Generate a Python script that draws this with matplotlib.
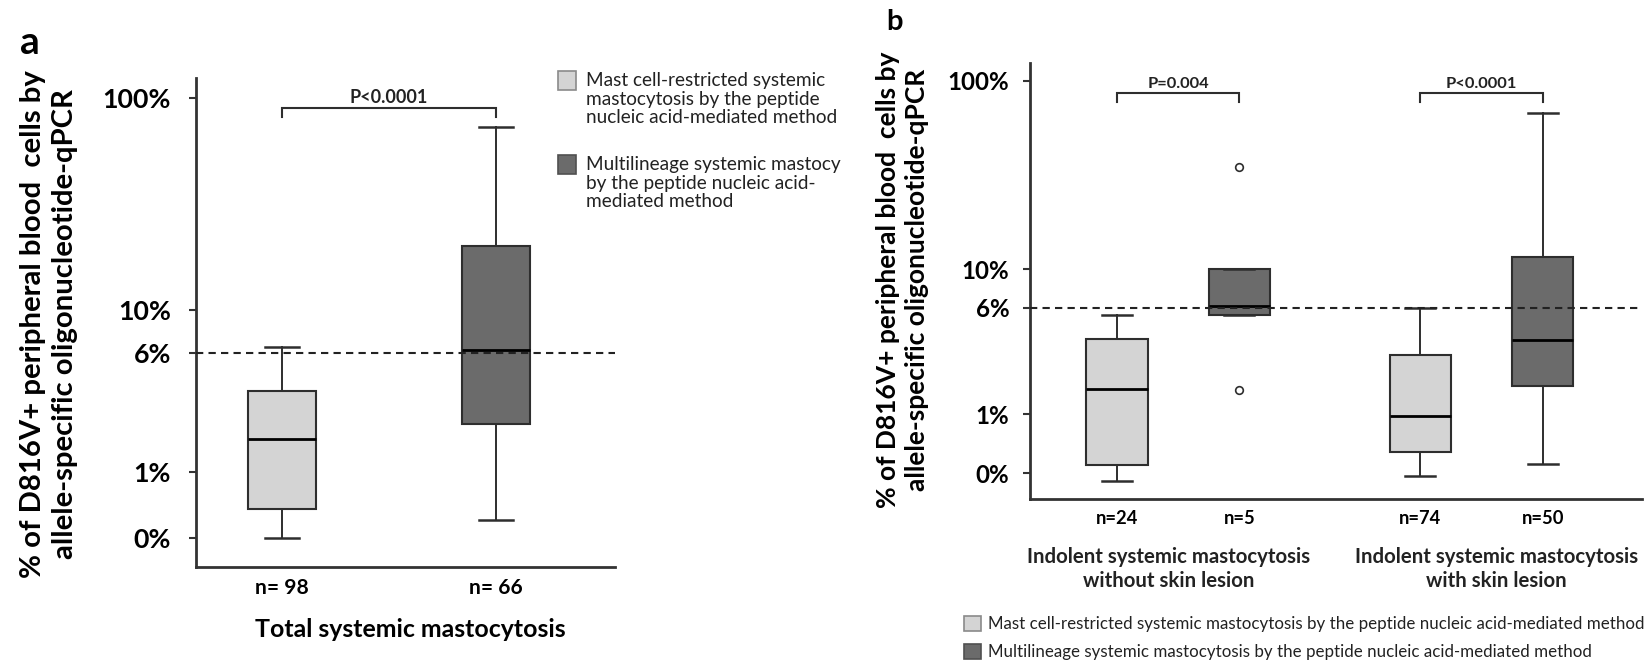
import numpy as np
import matplotlib
matplotlib.use("Agg")
import matplotlib.pyplot as plt
from matplotlib.patches import Rectangle
from matplotlib.ticker import NullLocator
import matplotlib.transforms as mtrans

plt.rcParams["font.family"] = ["Lato", "DejaVu Sans"]

W, H = 1646, 666
LIGHT = "#d4d4d4"
DARK = "#6b6b6b"
EDGE = "#2e2e2e"

# y axis is log10(% + 1)
TICK_VALS = [0, 1, 6, 10, 100]
TICK_LABELS = ["0%", "1%", "6%", "10%", "100%"]
CUTOFF = 6
YLIM = (-0.26, 124)

# panel a: total systemic mastocytosis
A_N = ["n= 98", "n= 66"]
A_Q1 = [0.36, 2.31]
A_MED = [1.84, 6.18]
A_Q3 = [3.67, 20.4]
A_WLO = [0.0, 0.21]
A_WHI = [6.44, 74.0]
A_COLORS = [LIGHT, DARK]
A_P = "P<0.0001"

# panel b: ISM without / with skin lesion
B_N = ["n=24", "n=5", "n=74", "n=50"]
B_Q1 = [0.10, 5.46, 0.28, 1.80]
B_MED = [1.70, 6.12, 0.96, 3.78]
B_Q3 = [3.88, 10.0, 3.04, 11.8]
B_WLO = [-0.086, 5.46, -0.025, 0.115]
B_WHI = [5.41, 10.0, 5.95, 68.4]
B_FLIERS = [[], [35.8, 1.68], [], []]
B_COLORS = [LIGHT, DARK, LIGHT, DARK]
B_GROUPS = ["Indolent systemic mastocytosis\nwithout skin lesion",
            "Indolent systemic mastocytosis\nwith skin lesion"]
B_P = ["P=0.004", "P<0.0001"]

YL1 = "% of D816V+ peripheral blood  cells by"
YLABEL = YL1 + "\nallele-specific oligonucleotide-qPCR"
LEG_A = ["Mast cell-restricted systemic\nmastocytosis by the peptide\nnucleic acid-mediated method",
         "Multilineage systemic mastocy\nby the peptide nucleic acid-\nmediated method"]
LEG_B = ["Mast cell-restricted systemic mastocytosis by the peptide nucleic acid-mediated method",
         "Multilineage systemic mastocytosis by the peptide nucleic acid-mediated method"]


def fwd(v):
    return np.log10(np.asarray(v, dtype=float) + 1)


def inv(p):
    return 10 ** np.asarray(p, dtype=float) - 1


def px(x, y):
    return x / W, 1 - y / H


fig = plt.figure(figsize=(W / 100, H / 100), dpi=100)
R = fig.canvas.get_renderer()


def size_for(s, width_px, weight="normal", base=10):
    # font size that makes s about width_px wide
    t = fig.text(0, 0, s, fontsize=base, fontweight=weight)
    w = t.get_window_extent(R).width
    t.remove()
    return base * width_px / w


FS_TICK_A = size_for("100%", 68.5, "bold")
FS_TICK_B = size_for("100%", 62, "bold")
FS_P_A = size_for("P<0.0001", 78, "bold")
FS_P_B = size_for("P<0.0001", 71.5, "bold")
FS_N_A = size_for("n= 98", 53.6, "bold")
FS_N_B = size_for("n=24", 42.7, "bold")
FS_XLAB = size_for("Total systemic mastocytosis", 312, "bold")
FS_YLAB_A = size_for(YL1, 509, "bold")
FS_YLAB_B = size_for(YL1, 459, "bold")
FS_GROUP = size_for("Indolent systemic mastocytosis", 285, "bold")
FS_LEG_A = size_for("by the peptide nucleic acid-", 231)
FS_LEG_B = size_for(LEG_B[0], 652)


def make_stats(q1, med, q3, wlo, whi, fliers=None):
    out = []
    for i in range(len(q1)):
        out.append(dict(q1=q1[i], med=med[i], q3=q3[i], whislo=wlo[i],
                        whishi=whi[i], fliers=(fliers[i] if fliers else [])))
    return out


def draw_boxes(ax, stats, pos, width, capw, colors):
    r = ax.bxp(stats, positions=pos, widths=width, capwidths=capw,
               patch_artist=True, showfliers=True, manage_ticks=False,
               boxprops=dict(edgecolor=EDGE, linewidth=1.5),
               medianprops=dict(color="black", linewidth=2),
               whiskerprops=dict(color=EDGE, linewidth=1.4),
               capprops=dict(color=EDGE, linewidth=1.8),
               flierprops=dict(marker="o", markersize=5.5, markerfacecolor="white",
                               markeredgecolor=EDGE, markeredgewidth=1.2))
    for b, c in zip(r["boxes"], colors):
        b.set_facecolor(c)
    return r


def style(ax, fs, pad):
    ax.set_yscale("function", functions=(fwd, inv))
    ax.set_ylim(*YLIM)
    ax.set_yticks(TICK_VALS, TICK_LABELS, fontsize=fs, fontweight="bold")
    ax.yaxis.set_minor_locator(NullLocator())
    for s in ("top", "right"):
        ax.spines[s].set_visible(False)
    for s in ("left", "bottom"):
        ax.spines[s].set_linewidth(2)
        ax.spines[s].set_color("#333333")
    ax.tick_params(axis="y", length=5, width=1.5, color="#333333", pad=pad)
    ax.tick_params(axis="x", length=0)
    ax.axhline(CUTOFF, color="#222222", lw=1.5, ls=(0, (3.5, 2.5)), zorder=3)


def bracket(ax, x0, x1, ytop, yend, text, fs, off):
    ax.plot([x0, x0, x1, x1], [yend, ytop, ytop, yend], color=EDGE, lw=1.5,
            solid_joinstyle="miter", clip_on=False)
    ax.annotate(text, xy=((x0 + x1) / 2, ytop), xytext=(0, off),
                textcoords="offset points", ha="center", va="baseline",
                fontsize=fs, fontweight="bold", color="#222222")


# ---------------- panel a ----------------
axa = fig.add_axes([196 / W, 1 - 567 / H, 419 / W, 489 / H])
pos_a = [1, 2]
draw_boxes(axa, make_stats(A_Q1, A_MED, A_Q3, A_WLO, A_WHI), pos_a, 0.317, 0.16, A_COLORS)
style(axa, FS_TICK_A, 13)
axa.set_xlim(0.600, 2.555)
axa.set_xticks(pos_a, A_N, fontsize=FS_N_A, fontweight="bold")
axa.tick_params(axis="x", pad=8)
axa.set_xlabel("Total systemic mastocytosis", fontsize=FS_XLAB, fontweight="bold")
axa.xaxis.set_label_coords(0.512, -0.105)
bracket(axa, pos_a[0], pos_a[1], 89.9, 82.0, A_P, FS_P_A, 4)

fig.text(*px(49, 324), YLABEL, rotation=90, ha="center", va="center",
         fontsize=FS_YLAB_A, fontweight="bold", linespacing=1.25)
fig.text(*px(30, 42), "a", fontsize=28, fontweight="bold", ha="center", va="center")

# legend a (drawn by hand, patches aligned with first line)
for y0, lab, c in zip([71, 155], LEG_A, A_COLORS):
    ec = "#8a8a8a" if c == LIGHT else "#505050"
    fig.add_artist(Rectangle(px(558, y0 + 19), 18 / W, 19 / H, transform=fig.transFigure,
                             facecolor=c, edgecolor=ec, lw=1.2))
    fig.text(*px(586, y0 + 1), lab, ha="left", va="top", fontsize=FS_LEG_A,
             linespacing=1.12, color="#222222")

# ---------------- panel b ----------------
axb = fig.add_axes([1030 / W, 1 - 499 / H, 612 / W, 436.3 / H])
pos_b = [1, 2, 3.48, 4.48]
draw_boxes(axb, make_stats(B_Q1, B_MED, B_Q3, B_WLO, B_WHI, B_FLIERS), pos_b, 0.50, 0.245, B_COLORS)
style(axb, FS_TICK_B, 10)
axb.set_xlim(0.29, 5.29)
axb.set_xticks(pos_b, B_N, fontsize=FS_N_B, fontweight="bold")
axb.tick_params(axis="x", pad=8)
bracket(axb, pos_b[0], pos_b[1], 86.1, 78.0, B_P[0], FS_P_B, 3.6)
bracket(axb, pos_b[2], pos_b[3], 86.1, 78.0, B_P[1], FS_P_B, 3.6)
tr = mtrans.blended_transform_factory(axb.transData, axb.transAxes)
for xg, lab in zip([1.42, 4.10], B_GROUPS):
    axb.text(xg, -0.161, lab, transform=tr, ha="center", va="center",
             fontsize=FS_GROUP, fontweight="bold", linespacing=1.25, color="#222222")

fig.text(*px(903, 280), YLABEL, rotation=90, ha="center", va="center",
         fontsize=FS_YLAB_B, fontweight="bold", linespacing=1.25)
fig.text(*px(895, 22), "b", fontsize=21, fontweight="bold", ha="center", va="center")

for y0, lab, c in zip([616, 643.5], LEG_B, B_COLORS[:2]):
    ec = "#8a8a8a" if c == LIGHT else "#505050"
    fig.add_artist(Rectangle(px(964, y0 + 15), 17 / W, 15 / H, transform=fig.transFigure,
                             facecolor=c, edgecolor=ec, lw=1.2))
    fig.text(*px(988, y0 + 8), lab, ha="left", va="center", fontsize=FS_LEG_B,
             color="#222222")

fig.savefig("out.png", dpi=100, facecolor="white")
